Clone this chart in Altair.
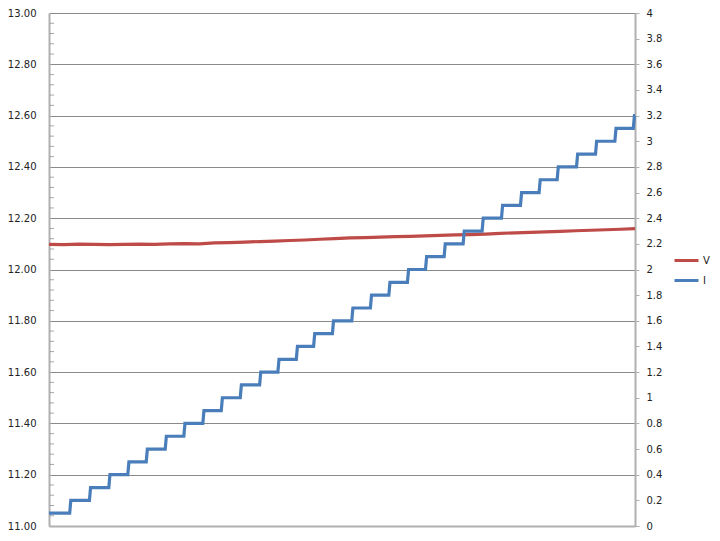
import altair as alt
import pandas as pd

# ---- data -----------------------------------------------------------
# V series (left axis), sampled along the (unlabelled) x axis
v_time = [0, 8, 16, 24, 32, 40, 48, 56, 64, 72, 80, 88, 96, 104, 112, 120,
          128, 136, 144, 152, 160, 168, 176, 184, 192, 200, 208, 216, 224,
          232, 240, 248, 256, 264, 272, 280, 288, 296, 304, 311.6]
v_vals = [12.098, 12.097, 12.099, 12.098, 12.097, 12.098, 12.099, 12.098,
          12.100, 12.101, 12.100, 12.104, 12.105, 12.107, 12.109, 12.111,
          12.113, 12.115, 12.118, 12.120, 12.123, 12.124, 12.126, 12.128,
          12.129, 12.131, 12.133, 12.135, 12.136, 12.138, 12.141, 12.143,
          12.145, 12.147, 12.149, 12.151, 12.153, 12.155, 12.157, 12.159]

# I series (right axis): staircase levels and the time each new level begins
i_levels = [0.1, 0.2, 0.3, 0.4, 0.5, 0.6, 0.7, 0.8, 0.9, 1.0, 1.1, 1.2, 1.3,
            1.4, 1.5, 1.6, 1.7, 1.8, 1.9, 2.0, 2.1, 2.2, 2.3, 2.4, 2.5, 2.6,
            2.7, 2.8, 2.9, 3.0, 3.1, 3.2]
i_step_starts = [11.3, 21.8, 32.1, 42.2, 52.0, 62.1, 72.0, 82.1, 91.9, 102.0,
                 112.3, 122.0, 131.8, 141.0, 151.0, 161.3, 171.2, 181.0,
                 190.9, 200.5, 210.4, 220.5, 230.6, 240.9, 251.0, 260.9,
                 270.5, 280.8, 290.9, 301.2, 311.0]
x_end = 311.6

left_ticks = [11.0, 11.2, 11.4, 11.6, 11.8, 12.0, 12.2, 12.4, 12.6, 12.8, 13.0]
right_ticks = [0, 0.2, 0.4, 0.6, 0.8, 1, 1.2, 1.4, 1.6, 1.8, 2, 2.2, 2.4,
               2.6, 2.8, 3, 3.2, 3.4, 3.6, 3.8, 4]
left_minor = [round(t + 0.04 * j, 2) for t in left_ticks[:-1] for j in (1, 2, 3, 4)]

series_names = ["V", "I"]
series_colors = ["#BE4B48", "#4A7EBB"]

# ---- tables -----------------------------------------------------------
v_df = pd.DataFrame({"t": v_time, "value": v_vals, "series": "V"})

i_rows = [(0.0, i_levels[0])]
for k, s in enumerate(i_step_starts):
    i_rows.append((s - 0.3, i_levels[k]))
    i_rows.append((min(s + 0.3, x_end), i_levels[k + 1]))
i_rows.append((x_end, i_levels[-1]))
i_df = pd.DataFrame(i_rows, columns=["t", "value"])
i_df["series"] = "I"
i_df["order"] = range(len(i_df))

minor_df = pd.DataFrame({"value": left_minor})

FONT = "DejaVu Sans"
GRID = "#8a8a8a"
AXIS_LINE = "#b0b0b0"
LABEL = "#222222"

x_enc = alt.X("t:Q", scale=alt.Scale(domain=[0, x_end], nice=False, zero=False),
              axis=alt.Axis(labels=False, ticks=False, grid=False, title=None,
                            domainColor=AXIS_LINE, domainWidth=2))

color_enc = alt.Color("series:N",
                      scale=alt.Scale(domain=series_names, range=series_colors),
                      legend=alt.Legend(orient="none", legendX=624, legendY=234,
                                        title=None, symbolType="stroke",
                                        symbolSize=576, symbolStrokeWidth=3,
                                        labelFont=FONT, labelFontSize=10,
                                        labelColor=LABEL, labelOffset=3,
                                        rowPadding=0))

left_scale = alt.Scale(domain=[11, 13], nice=False, zero=False)
left_axis = alt.Axis(orient="left", values=left_ticks, format=".2f",
                     title=None, grid=True, gridColor=GRID, gridWidth=1,
                     ticks=False, labelPadding=13, labelFont=FONT,
                     labelFontSize=10, labelColor=LABEL,
                     domainColor=AXIS_LINE, domainWidth=2)

v_line = alt.Chart(v_df).mark_line(strokeWidth=3.2).encode(
    x=x_enc,
    y=alt.Y("value:Q", scale=left_scale, axis=left_axis),
    color=color_enc,
)

minor = alt.Chart(minor_df).mark_tick(orient="horizontal", size=4,
                                      thickness=1, color="#808080").encode(
    y=alt.Y("value:Q", scale=left_scale, axis=left_axis),
    x=alt.value(3),
)

i_line = alt.Chart(i_df).mark_line(strokeWidth=3.2).encode(
    x=x_enc,
    y=alt.Y("value:Q",
            scale=alt.Scale(domain=[0, 4], nice=False, zero=True),
            axis=alt.Axis(orient="right", values=right_ticks, format="~g",
                          title=None, grid=False, tickSize=4,
                          tickColor=AXIS_LINE, labelPadding=7,
                          labelFont=FONT, labelFontSize=10,
                          labelColor=LABEL, domainColor=AXIS_LINE,
                          domainWidth=2)),
    color=color_enc,
    order="order:Q",
)

chart = alt.layer(alt.layer(v_line, minor), i_line).resolve_scale(
    y="independent"
).properties(
    width=586, height=513,
    autosize=alt.AutoSizeParams(type="none"),
    padding={"left": 41, "top": 5, "right": 77, "bottom": 7},
    background="white",
).configure_view(stroke=None)

chart.save("out.html", embed_options={"renderer": "svg", "actions": False})
